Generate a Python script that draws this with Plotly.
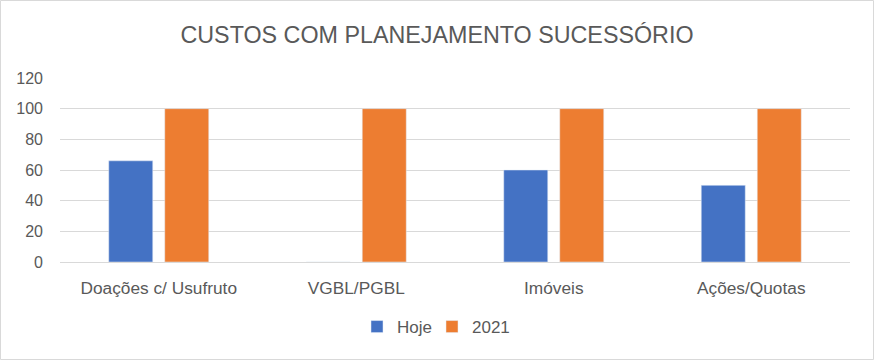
import plotly.graph_objects as go

categories = ["Doações c/ Usufruto", "VGBL/PGBL", "Imóveis", "Ações/Quotas"]
hoje = [66, 0, 60, 50]
ano2021 = [100, 100, 100, 100]
yticks = [0, 20, 40, 60, 80, 100, 120]

W, H = 874, 360
L, R, T, B = 60, 24, 78, 98
pw, ph = W - L - R, H - T - B

fig = go.Figure()
fig.add_trace(go.Bar(x=categories, y=hoje, name="Hoje", marker_color="#4472C4",
                     legend="legend", showlegend=True))
fig.add_trace(go.Bar(x=categories, y=ano2021, name="2021", marker_color="#ED7D31",
                     legend="legend2", showlegend=True))

font = "Liberation Sans, Arial, sans-serif"
leg_y = -(327 - 262) / ph
leg_common = dict(orientation="h", xanchor="left", y=leg_y, yanchor="middle",
                  font=dict(size=17, color="#595959"), itemwidth=30, bgcolor="rgba(0,0,0,0)",
                  visible=True)
fig.update_layout(
    width=W, height=H,
    showlegend=True,
    margin=dict(l=L, r=R, t=T, b=B),
    paper_bgcolor="white", plot_bgcolor="white",
    barmode="group", bargap=0.433, bargroupgap=0.214,
    title=dict(text="CUSTOS COM PLANEJAMENTO SUCESSÓRIO", x=0.5, xanchor="center",
               y=1 - 35 / H, yanchor="middle",
               font=dict(family=font, size=23.3, color="#595959")),
    font=dict(family=font, size=16, color="#595959"),
    legend=dict(x=(357 - L) / pw, **leg_common),
    legend2=dict(x=(432 - L) / pw, **leg_common),
    xaxis=dict(showgrid=False, showline=False, ticks="", ticklabelstandoff=14,
               tickfont=dict(size=17.3, color="#595959")),
    yaxis=dict(range=[0, 120], tickvals=yticks, showgrid=True, gridcolor="#D9D9D9", gridwidth=1,
               zeroline=True, zerolinecolor="#D9D9D9", zerolinewidth=1, showline=False,
               ticks="", ticklabelstandoff=16, tickfont=dict(size=16, color="#595959")),
    shapes=[dict(type="rect", xref="paper", yref="paper",
                 x0=(0.5 - L) / pw, x1=(W - 0.5 - L) / pw,
                 y0=-(H - 0.5 - (T + ph)) / ph, y1=(T + ph - 0.5) / ph,
                 line=dict(color="#D9D9D9", width=1), layer="below")],
)
fig.write_html("out.html", config={"displayModeBar": False},
               post_script="document.body.style.margin='0';document.body.style.overflow='hidden';")
